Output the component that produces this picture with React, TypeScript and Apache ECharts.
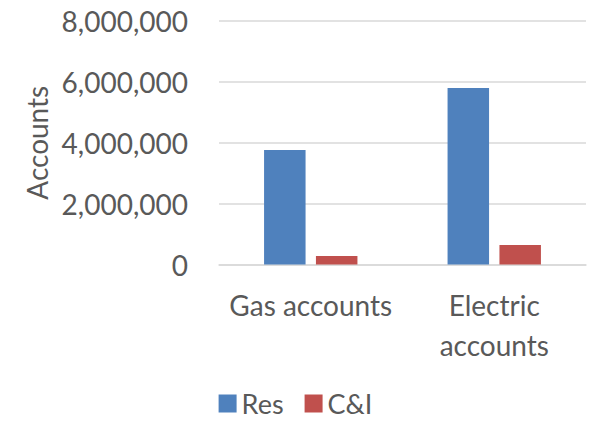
import React, { useEffect, useRef } from "react";
import * as echarts from "echarts";

const categories = ["Gas accounts", "Electric\naccounts"];
const resValues = [3760000, 5800000];
const ciValues = [280000, 640000];
const seriesNames = ["Res", "C&I"];

const FONT = "Lato, 'Open Sans', sans-serif";

export default function App() {
  const ref = useRef<HTMLDivElement>(null);
  useEffect(() => {
    if (!ref.current) return;
    const chart = echarts.init(ref.current, null, { renderer: "svg" });
    chart.setOption({
      animation: false,
      backgroundColor: "#ffffff",
      textStyle: { fontFamily: FONT },
      grid: { left: 219, right: 5, top: 21, bottom: 156.5, containLabel: false },
      legend: {
        data: seriesNames,
        top: 390,
        left: "center",
        padding: 0,
        itemWidth: 18,
        itemHeight: 18,
        itemGap: 21,
        icon: "rect",
        textStyle: { fontFamily: FONT, fontSize: 27, color: "#595959", lineHeight: 26 },
      },
      xAxis: {
        type: "category",
        data: categories,
        axisLine: { show: true, lineStyle: { color: "#d9d9d9", width: 1.5 } },
        axisTick: { show: false },
        axisLabel: {
          fontFamily: FONT,
          fontSize: 28,
          color: "#595959",
          margin: 20,
          lineHeight: 40,
          interval: 0,
        },
      },
      yAxis: {
        type: "value",
        min: 0,
        max: 8000000,
        interval: 2000000,
        name: "Accounts",
        nameLocation: "middle",
        nameGap: 168,
        nameRotate: 90,
        nameTextStyle: { fontFamily: FONT, fontSize: 28, color: "#595959" },
        axisLine: { show: false },
        axisTick: { show: false },
        splitLine: { lineStyle: { color: "#d9d9d9", width: 1.5 } },
        axisLabel: {
          fontFamily: FONT,
          fontSize: 28,
          color: "#595959",
          margin: 31,
          formatter: (v: number) => v.toLocaleString("en-US"),
        },
      },
      series: [
        {
          name: seriesNames[0],
          type: "bar",
          data: resValues,
          barWidth: 41.5,
          barGap: "25%",
          itemStyle: { color: "#4F81BD" },
        },
        {
          name: seriesNames[1],
          type: "bar",
          data: ciValues,
          barWidth: 41.5,
          itemStyle: { color: "#C0504D" },
        },
      ],
    });
    return () => chart.dispose();
  }, []);
  return (
    <div
      ref={ref}
      style={{ position: "fixed", left: 0, top: 0, width: 591, height: 421 }}
    />
  );
}
